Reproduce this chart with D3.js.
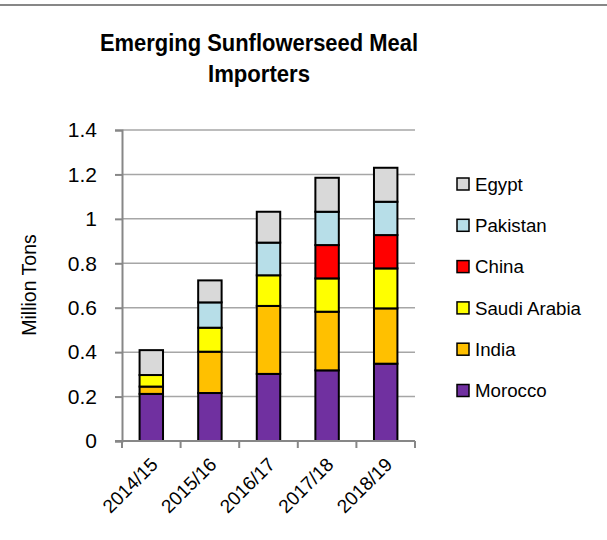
<!DOCTYPE html>
<html>
<head>
<meta charset="utf-8">
<script src="https://cdn.jsdelivr.net/npm/d3@7"></script>
<style>
  html, body { margin: 0; padding: 0; background: #fff; }
  svg { display: block; }
  text { font-family: "Liberation Sans", Arial, sans-serif; fill: #000; }
</style>
</head>
<body>
<svg id="chart" width="607" height="540"></svg>
<script>
const categories = ["2014/15", "2015/16", "2016/17", "2017/18", "2018/19"];
const seriesNames = ["Morocco", "India", "Saudi Arabia", "China", "Pakistan", "Egypt"];
const colors = ["#7030A0", "#FFC000", "#FFFF00", "#FF0000", "#B7DEE8", "#D9D9D9"];
const morocco = [0.212, 0.216, 0.302, 0.318, 0.348];
const india = [0.033, 0.186, 0.306, 0.264, 0.249];
const saudiArabia = [0.052, 0.108, 0.138, 0.150, 0.180];
const china = [0.000, 0.000, 0.000, 0.150, 0.150];
const pakistan = [0.000, 0.114, 0.147, 0.150, 0.150];
const egypt = [0.112, 0.099, 0.139, 0.153, 0.153];
const yTicks = [0, 0.2, 0.4, 0.6, 0.8, 1.0, 1.2, 1.4];
const titleLines = ["Emerging Sunflowerseed Meal", "Importers"];
const yTitle = "Million Tons";

const seriesValues = [morocco, india, saudiArabia, china, pakistan, egypt];
const table = categories.map((c, i) => {
  const row = { category: c };
  seriesNames.forEach((s, j) => row[s] = seriesValues[j][i]);
  return row;
});

const svg = d3.select("#chart");
const plotLeft = 122, plotRight = 415, plotTop = 130, plotBottom = 441;

// top border
svg.append("line").attr("x1", 0).attr("x2", 607).attr("y1", 5).attr("y2", 5)
  .attr("stroke", "#878787").attr("stroke-width", 2);

const x = d3.scaleBand().domain(categories).range([plotLeft, plotRight])
  .paddingInner(0.6).paddingOuter(0.3);
const y = d3.scaleLinear().domain([0, 1.4]).range([plotBottom, plotTop]);

// gridlines
svg.append("g").selectAll("line").data(yTicks.filter(t => t > 0)).join("line")
  .attr("x1", plotLeft).attr("x2", plotRight)
  .attr("y1", d => y(d)).attr("y2", d => y(d))
  .attr("stroke", "#A6A6A6").attr("stroke-width", 1.5);

// bars
const stack = d3.stack().keys(seriesNames)(table);
const color = d3.scaleOrdinal().domain(seriesNames).range(colors);
svg.append("g").selectAll("g").data(stack).join("g")
  .attr("fill", d => color(d.key))
  .selectAll("rect").data(d => d.filter(p => p[1] - p[0] > 0)).join("rect")
  .attr("x", d => x(d.data.category))
  .attr("width", x.bandwidth())
  .attr("y", d => y(d[1]))
  .attr("height", d => y(d[0]) - y(d[1]))
  .attr("stroke", "#000").attr("stroke-width", 2);

// y axis
const yAxis = svg.append("g").attr("transform", `translate(${plotLeft},0)`)
  .call(d3.axisLeft(y).tickValues(yTicks).tickSize(7).tickPadding(18)
    .tickFormat(d => d3.format("~g")(d)));
yAxis.select(".domain").attr("stroke", "#878787").attr("stroke-width", 2);
yAxis.selectAll(".tick line").attr("stroke", "#878787").attr("stroke-width", 2);
yAxis.selectAll(".tick text").attr("font-size", 21).attr("font-family", "Liberation Sans");

// x axis
const step = x.step();
const xAxisG = svg.append("g").attr("transform", `translate(0,${plotBottom})`);
xAxisG.append("line").attr("x1", plotLeft - 7).attr("x2", plotRight).attr("y1", 0).attr("y2", 0)
  .attr("stroke", "#878787").attr("stroke-width", 2);
const boundaries = categories.map((c, i) => plotLeft + step * i).concat([plotRight]);
xAxisG.selectAll("line.tk").data(boundaries).join("line").attr("class", "tk")
  .attr("x1", d => d).attr("x2", d => d).attr("y1", 0).attr("y2", 7)
  .attr("stroke", "#878787").attr("stroke-width", 2);
xAxisG.selectAll("text").data(categories).join("text")
  .attr("transform", d => `translate(${x(d) + x.bandwidth() / 2 + 3},${20}) rotate(-45)`)
  .attr("text-anchor", "end").attr("dy", "0.35em")
  .attr("font-size", 19).text(d => d);

// y title
svg.append("text").attr("transform", "translate(36,285) rotate(-90)")
  .attr("text-anchor", "middle").attr("font-size", 19.5).text(yTitle);

// title
const titleWidths = [318, 102];
svg.append("g").selectAll("text").data(titleLines).join("text")
  .attr("x", 259).attr("y", (d, i) => 51 + i * 31)
  .attr("text-anchor", "middle").attr("font-size", 23).attr("font-weight", "bold")
  .attr("textLength", (d, i) => titleWidths[i]).attr("lengthAdjust", "spacingAndGlyphs")
  .text(d => d);

// legend
const legendOrder = seriesNames.slice().reverse();
const lg = svg.append("g").selectAll("g").data(legendOrder).join("g")
  .attr("transform", (d, i) => `translate(457,${184 + i * 41.3})`);
lg.append("rect").attr("x", 0).attr("y", -6).attr("width", 12).attr("height", 12)
  .attr("fill", d => color(d)).attr("stroke", "#000").attr("stroke-width", 1.5);
lg.append("text").attr("x", 18).attr("dy", "0.36em").attr("font-size", 18.7).text(d => d);
</script>
</body>
</html>
